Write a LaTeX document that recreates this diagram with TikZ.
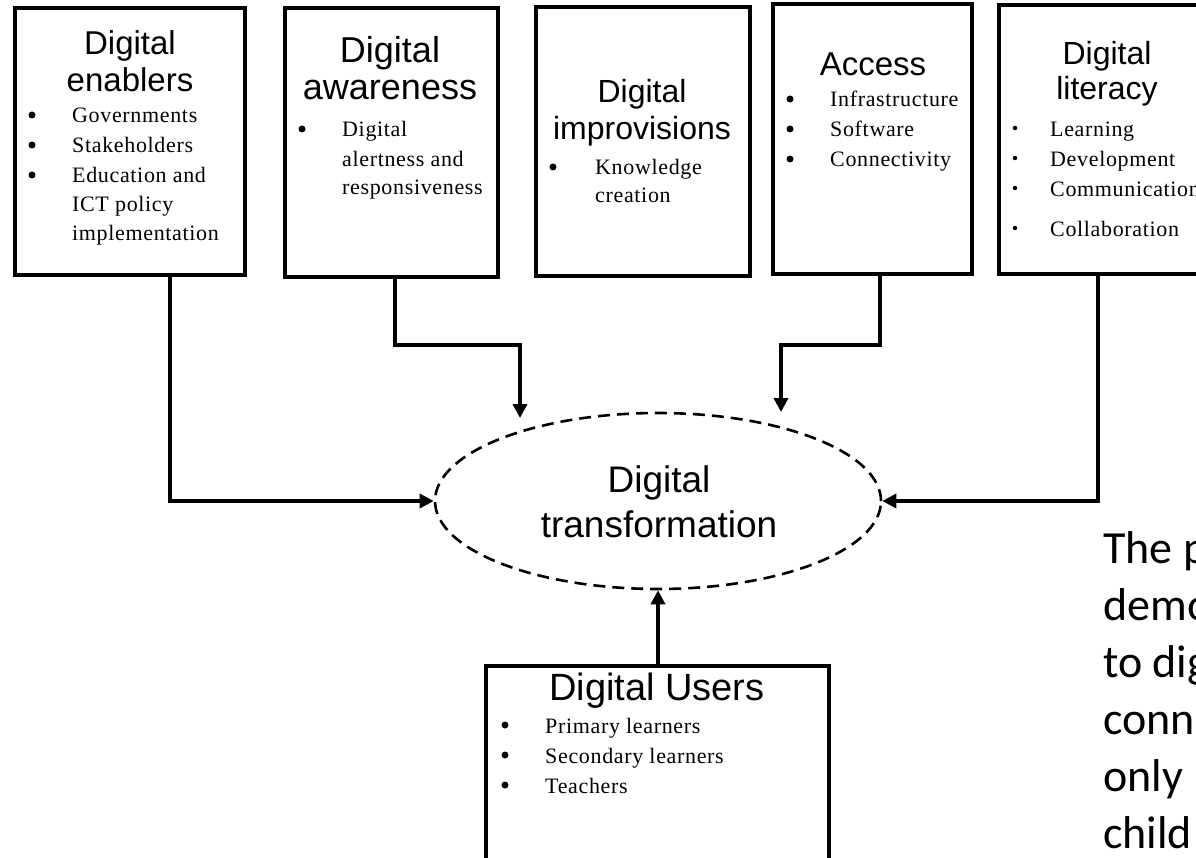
\documentclass[tikz,border=0pt]{standalone}
\usepackage{fontspec}
\usetikzlibrary{arrows.meta,shapes.geometric,calc}
\newfontfamily\hfont{Liberation Sans}
\newfontfamily\bfont[LetterSpace=3]{Liberation Serif}
\newfontfamily\cfont{Carlito}
\tikzset{
  box/.style={draw=black,line width=3.3pt,fill=white,inner sep=0pt,outer sep=0pt},
  head/.style={inner sep=0pt,anchor=base,font=\hfont\fontsize{#1}{#1}\selectfont},
  item/.style={inner sep=0pt,anchor=base west,font=\bfont\fontsize{22}{26}\selectfont},
  side/.style={inner sep=0pt,anchor=base west,font=\cfont\fontsize{46}{56}\selectfont},
  conn/.style={line width=3.5pt,-{Triangle[length=14pt,width=14pt]}},
  bul/.style={circle,fill=black,inner sep=0pt,minimum size=#1}
}
\begin{document}
\begin{tikzpicture}[x=1pt,y=-1pt]
\useasboundingbox (0,0) rectangle (1196,858);
\clip (0,0) rectangle (1196,858);
\fill[white] (0,0) rectangle (1196,858);

% boxes
\node[box,minimum width=230pt,minimum height=267pt] (b1) at (130,141.5) {};
\node[box,minimum width=213pt,minimum height=269pt] (b2) at (391.5,142.5) {};
\node[box,minimum width=214pt,minimum height=269pt] (b3) at (643,141.5) {};
\node[box,minimum width=199pt,minimum height=270pt] (b4) at (872.5,139) {};
\node[box,minimum width=216pt,minimum height=269pt] (b5) at (1107,139.5) {};
\node[box,minimum width=343pt,minimum height=214pt] (u) at (657.5,773) {};
\node[ellipse,draw=black,line width=2.6pt,dash pattern=on 12pt off 7pt,minimum width=446pt,minimum height=176pt,inner sep=0pt] (ell) at (658,501) {};

% box 1
\node[head=33] (h1a) at (130,55) {Digital};
\node[head=33] (h1b) at (130,92) {enablers};
\node[bul=7pt] (d1a) at (32,115) {};
\node[bul=7pt] (d1b) at (32,145) {};
\node[bul=7pt] (d1c) at (32,175) {};
\node[item] (t1a) at (72,123) {Governments};
\node[item] (t1b) at (72,153) {Stakeholders};
\node[item] (t1c) at (72,183) {Education and};
\node[item] (t1d) at (72,212) {ICT policy};
\node[item] (t1e) at (72,241) {implementation};

% box 2
\node[head=36] (h2a) at (390,63) {Digital};
\node[head=36] (h2b) at (390,100) {awareness};
\node[bul=7pt] (d2a) at (302,129) {};
\node[item] (t2a) at (342,137) {Digital};
\node[item] (t2b) at (342,167) {alertness and};
\node[item] (t2c) at (342,195) {responsiveness};

% box 3
\node[head=32] (h3a) at (642,103) {Digital};
\node[head=32] (h3b) at (642,140) {improvisions};
\node[bul=7pt] (d3a) at (553,167) {};
\node[item] (t3a) at (595,175) {Knowledge};
\node[item] (t3b) at (595,203) {creation};

% box 4
\node[head=33] (h4a) at (873,76) {Access};
\node[bul=7pt] (d4a) at (790,99) {};
\node[bul=7pt] (d4b) at (790,129) {};
\node[bul=7pt] (d4c) at (790,159) {};
\node[item] (t4a) at (830,107) {Infrastructure};
\node[item] (t4b) at (830,137) {Software};
\node[item] (t4c) at (830,167) {Connectivity};

% box 5
\node[head=32] (h5a) at (1107,65) {Digital};
\node[head=32] (h5b) at (1107,100) {literacy};
\node[bul=4.5pt] (d5a) at (1015,128) {};
\node[bul=4.5pt] (d5b) at (1015,158) {};
\node[bul=4.5pt] (d5c) at (1015,188) {};
\node[bul=4.5pt] (d5d) at (1015,228) {};
\node[item] (t5a) at (1050,137) {Learning};
\node[item] (t5b) at (1050,167) {Development};
\node[item] (t5c) at (1050,197) {Communication};
\node[item] (t5d) at (1050,237) {Collaboration};

% users
\node[head=38] (hu) at (657,700) {Digital Users};
\node[bul=7pt] (dua) at (505,725) {};
\node[bul=7pt] (dub) at (505,755) {};
\node[bul=7pt] (duc) at (505,785) {};
\node[item] (tua) at (545,733) {Primary learners};
\node[item] (tub) at (545,763) {Secondary learners};
\node[item] (tuc) at (545,793) {Teachers};

% ellipse text
\node[head=37] (e1) at (659,492) {Digital};
\node[head=37] (e2) at (659,537) {transformation};

% side text
\node[side] (s1) at (1103,563) {The p};
\node[side] (s2) at (1103,620) {demo};
\node[side] (s3) at (1103,677) {to dig};
\node[side] (s4) at (1103,734) {conn};
\node[side] (s5) at (1103,791) {only};
\node[side] (s6) at (1103,848) {child};

% connectors
\coordinate (k2) at (520,418);
\coordinate (k4) at (781,412);
\draw[conn] ([xshift=40pt]b1.south) |- (ell.west);
\draw[conn] ([xshift=3.5pt]b2.south) -- ++(0,68) -| (k2);
\draw[conn] ([xshift=7.5pt]b4.south) -- ++(0,71) -| (k4);
\draw[conn] ([xshift=-9pt]b5.south) |- (ell.east);
\draw[conn] (u.north -| ell.south) -- (ell.south);
\end{tikzpicture}
\end{document}
